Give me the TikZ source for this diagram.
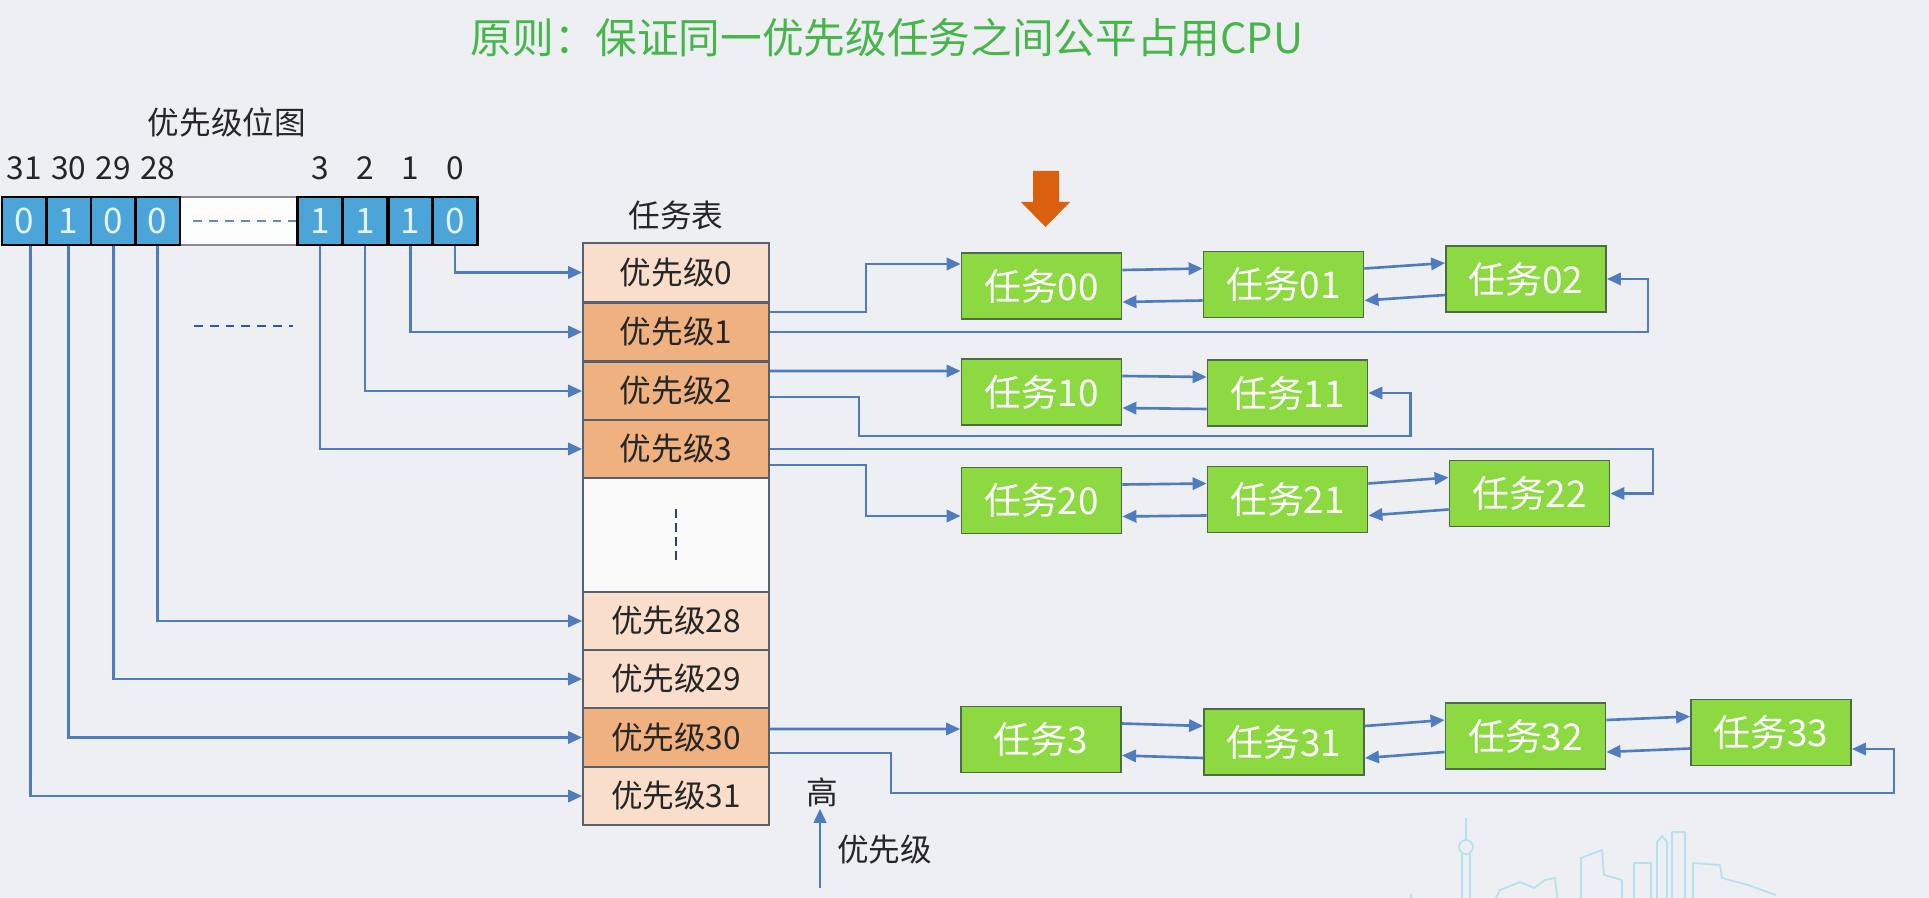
\documentclass[tikz,border=0pt]{standalone}
\usepackage{fontspec}
\setmainfont{Noto Sans CJK SC}
\usepackage{xcolor}
\usepackage{tikz}
\usetikzlibrary{arrows.meta,positioning}

\begin{document}
\begin{tikzpicture}[x=0.02cm,y=-0.02cm,
  txt/.style={font=\fontsize{18}{20}\selectfont,text=black!85,inner sep=1pt},
  link/.style={draw=linkblue,line width=1.5pt,-{Triangle[length=8pt,width=7pt]}},
  bitcell/.style={draw=black,line width=1.5pt,fill=bitblue,text=bittext,
    minimum width=0.89cm,minimum height=0.96cm,inner sep=0pt,font=\fontsize{20}{20}\selectfont},
  bitgap/.style={draw=black!45,line width=0.6pt,fill=white!85!bg,
    minimum width=2.36cm,minimum height=0.96cm,inner sep=0pt},
  prio/.style={draw=tline,line width=1pt,minimum width=3.72cm,minimum height=1.17cm,
    inner sep=0pt,font=\fontsize{18}{20}\selectfont,text=black!85},
  prioDark/.style={prio,fill=cdark},
  prioLight/.style={prio,fill=clight},
  rowgap/.style={draw=tline,line width=1pt,fill=white!70!bg,minimum width=3.72cm,
    minimum height=2.28cm,inner sep=0pt},
  task/.style={draw=gline,line width=1pt,fill=cgreen,text=white,minimum width=3.2cm,
    minimum height=1.32cm,inner sep=0pt,font=\fontsize{21}{22}\selectfont}]
\definecolor{bg}{HTML}{EEEFF3}
\definecolor{linkblue}{HTML}{4F7CBF}
\definecolor{bitblue}{HTML}{4BA5D8}
\definecolor{bittext}{HTML}{E4F3FA}
\definecolor{cdark}{HTML}{EEB17F}
\definecolor{clight}{HTML}{F8DECB}
\definecolor{tline}{HTML}{56606E}
\definecolor{cgreen}{HTML}{8CD942}
\definecolor{gline}{HTML}{4D6B47}
\definecolor{ctitle}{HTML}{46B54A}
\definecolor{corange}{HTML}{D9600F}
\definecolor{sky}{HTML}{B5E0EE}
\fill[bg] (0,0) rectangle (1929,898);
\useasboundingbox (0,0) rectangle (1929,898);

% skyline in the corner
\draw[sky,line width=1pt,line join=round]
  (1411,898) -- (1411,894) (1496,898) -- (1500,890) -- (1520,882) -- (1534,888) -- (1545,880)
  -- (1555,878) -- (1557,898) (1581,898) -- (1581,858) -- (1602,850) -- (1604,875) -- (1622,880)
  -- (1622,898) (1634,898) -- (1634,863) -- (1651,863) -- (1651,898)
  (1657,898) -- (1657,842) -- (1662,836) -- (1667,842) -- (1667,898)
  (1672,898) -- (1672,832) -- (1685,832) -- (1685,898)
  (1693,898) -- (1693,863) -- (1720,865) -- (1722,878) -- (1748,885) -- (1776,895);
\draw[sky,line width=1pt] (1462,898) -- (1462,854) (1470,898) -- (1470,854)
  (1466,840) -- (1466,818);
\draw[sky,line width=1pt] (1466,847) circle (7);

\node[font=\fontsize{23.7}{24}\selectfont,text=ctitle] (title) at (887,38)
  {原则：保证同一优先级任务之间公平占用CPU};

% priority bitmap
\node[txt] (maplabel) at (227,122) {优先级位图};
\node[bitgap] (bgap) at (239,221) {};
\draw[linkblue!90,line width=1pt,dash pattern=on 5pt off 4pt] ([xshift=0.28cm]bgap.west) -- (bgap.east);
\foreach \n/\x/\v in {31/24.2/0,30/68.7/1,29/113.2/0,28/157.7/0,3/320/1,2/365/1,1/410.5/1,0/455/0} {
  \node[bitcell] (b\n) at (\x,221) {\v};
  \node[txt] (n\n) at (\x,168) {\n};
}
\draw[linkblue!70!black,line width=1.3pt,dash pattern=on 5pt off 4pt] (194,326) -- (293,326);

% task table
\node[txt] (tabtitle) at (676,215) {任务表};
\node[rowgap] (pgap) at (676,535) {};
\draw[black!45!linkblue,line width=1.6pt,dash pattern=on 5pt off 3pt] (676,509) -- (676,564);
\foreach \n/\y/\s in {0/272.5/prioLight,1/332/prioDark,2/391/prioDark,3/449/prioDark,
  28/621/prioLight,29/679/prioLight,30/737.5/prioDark,31/796/prioLight}
  \node[\s] (p\n) at (676,\y) {优先级\n};

\foreach \n/\d in {0/0,1/0,2/0,3/0,28/0,29/0,30/0,31/0.12}
  \draw[link] ([xshift=\d cm]b\n.south) |- (p\n.west);

% ready lists
\foreach \n/\x/\y in {00/1041.5/286,01/1283.5/284.5,02/1526/279,10/1041.5/392,11/1287.5/393,
  20/1041.5/500.5,21/1287.5/499.5,22/1529.5/493.5,3/1041/739.5,31/1284/742,32/1525.5/736,33/1771/732.5}
  \node[task] (t\n) at (\x,\y) {任务\n};

\foreach \a/\b in {t00/t01,t01/t02,t10/t11,t20/t21,t21/t22,t3/t31,t31/t32,t32/t33} {
  \draw[link] ([yshift=0.32cm]\a.east) -- ([yshift=0.32cm]\b.west);
  \draw[link] ([yshift=-0.32cm]\b.west) -- ([yshift=-0.32cm]\a.east);
}

\draw[link] ([yshift=0.4cm]p1.east) -- ++(96,0) |- ([yshift=0.44cm]t00.west);
\draw[link] (p1.east) -- ++(878,0) |- (t02.east);
\draw[link] ([yshift=0.4cm]p2.east) -- ([yshift=0.42cm]t10.west);
\draw[link] ([yshift=-0.12cm]p2.east) -- ++(89,0) -- ++(0,39) -| ([xshift=0.84cm]t11.east) -- (t11.east);
\draw[link] (p3.east) -- ++(883,0) |- (t22.east);
\draw[link] ([yshift=-0.32cm]p3.east) -- ++(96,0) |- ([yshift=-0.31cm]t20.west);
\draw[link] ([yshift=0.17cm]p30.east) -- ([yshift=0.21cm]t3.west);
\draw[link] ([yshift=-0.31cm]p30.east) -- ++(121,0) -- ++(0,40)
  -| ([xshift=0.84cm,yshift=-0.33cm]t33.east) -- ([yshift=-0.33cm]t33.east);

% current task marker
\fill[corange] (1033,171) -- (1059,171) -- (1059,202) -- (1070,202) -- (1045.5,227)
  -- (1021,202) -- (1033,202) -- cycle;

% priority direction
\node[txt] (hi) at (822,792) {高};
\node[txt,anchor=west] (lvl) at (835,850) {优先级};
\coordinate (lo) at (820,888);
\draw[link] (lo) -- (lo |- hi.south);
\end{tikzpicture}
\end{document}
